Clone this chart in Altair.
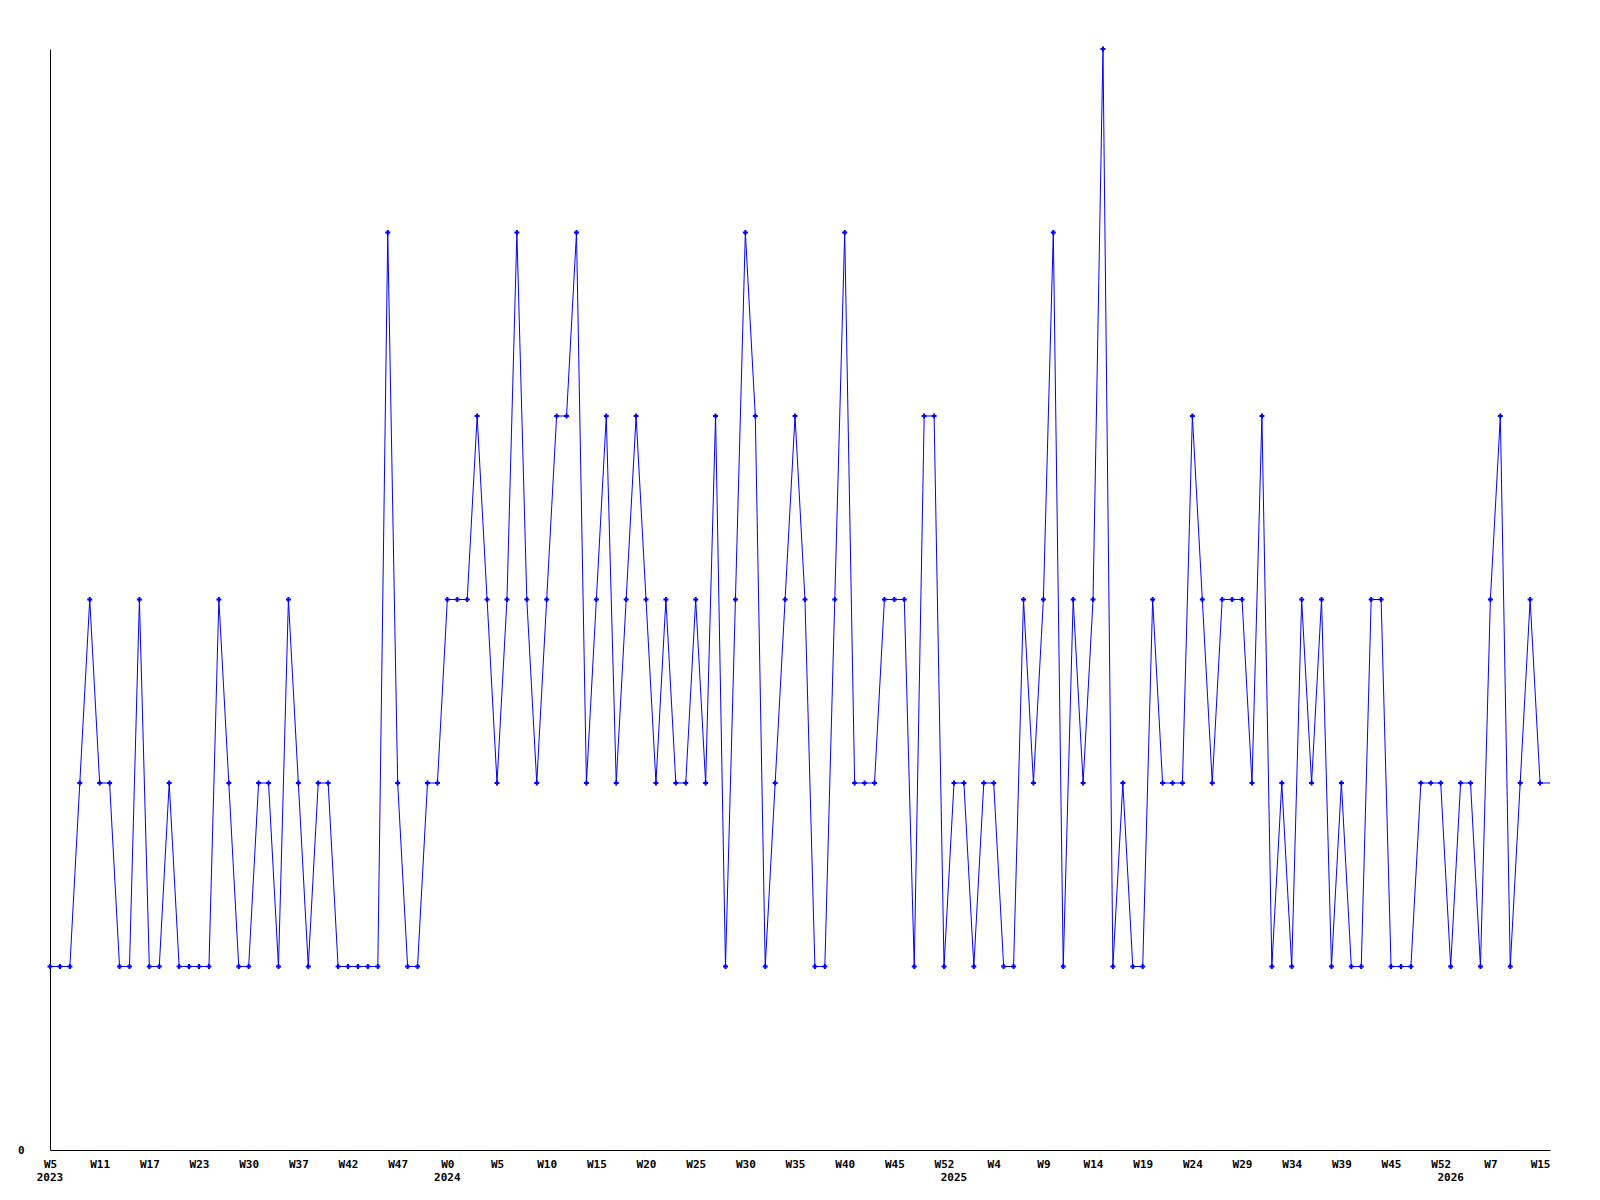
import altair as alt
import pandas as pd

# values, one per period
values = [1, 1, 1, 2, 3, 2, 2, 1, 1, 3,
          1, 1, 2, 1, 1, 1, 1, 3, 2, 1,
          1, 2, 2, 1, 3, 2, 1, 2, 2, 1,
          1, 1, 1, 1, 5, 2, 1, 1, 2, 2,
          3, 3, 3, 4, 3, 2, 3, 5, 3, 2,
          3, 4, 4, 5, 2, 3, 4, 2, 3, 4,
          3, 2, 3, 2, 2, 3, 2, 4, 1, 3,
          5, 4, 1, 2, 3, 4, 3, 1, 1, 3,
          5, 2, 2, 2, 3, 3, 3, 1, 4, 4,
          1, 2, 2, 1, 2, 2, 1, 1, 3, 2,
          3, 5, 1, 3, 2, 3, 6, 1, 2, 1,
          1, 3, 2, 2, 2, 4, 3, 2, 3, 3,
          3, 2, 4, 1, 2, 1, 3, 2, 3, 1,
          2, 1, 1, 3, 3, 1, 1, 1, 2, 2,
          2, 1, 2, 2, 1, 3, 4, 1, 2, 3,
          2, 2]

# week tick labels, one every 5 periods
week_labels = ["W5", "W11", "W17", "W23", "W30", "W37", "W42", "W47", "W0",
               "W5", "W10", "W15", "W20", "W25", "W30", "W35", "W40", "W45",
               "W52", "W4", "W9", "W14", "W19", "W24", "W29", "W34", "W39",
               "W45", "W52", "W7", "W15"]
week_step = 5

# year labels and the period index where each year begins
years = ["2023", "2024", "2025", "2026"]
year_start = [0, 40, 91, 141]

n = len(values)
df = pd.DataFrame({"idx": list(range(n)), "value": values})
df["marker"] = df["idx"] < n - 1
ydf = pd.DataFrame({"idx": year_start, "year": years})

W, H = 1500, 1101
FONT = "DejaVu Sans Mono"
BLUE = "#0000ff"

tick_vals = [i * week_step for i in range(len(week_labels))]
label_expr = "[" + ",".join("'%s'" % w for w in week_labels) + "][round(datum.value / %d)]" % week_step

xscale = alt.Scale(domain=[0, n - 1], nice=False, zero=False)
yscale = alt.Scale(domain=[0, 6], nice=False, zero=True)

xaxis = alt.Axis(values=tick_vals, labelExpr=label_expr, title=None, grid=False,
                 ticks=False, domainColor="black", domainWidth=1,
                 labelFont=FONT, labelFontSize=11, labelFontWeight="bold",
                 labelColor="black", labelPadding=8, labelOverlap=False,
                 labelBound=False, labelFlush=False)
yaxis = alt.Axis(values=[0], format="d", title=None, grid=False, ticks=False,
                 domainColor="black", domainWidth=1,
                 labelFont=FONT, labelFontSize=11, labelFontWeight="bold",
                 labelColor="black", labelPadding=26, labelBaseline="middle")

base = alt.Chart(df)
line = base.mark_line(color=BLUE, strokeWidth=1).encode(
    x=alt.X("idx:Q", scale=xscale, axis=xaxis),
    y=alt.Y("value:Q", scale=yscale, axis=yaxis),
)
pts = base.transform_filter("datum.marker").mark_point(
    shape="cross", filled=True, size=25, color=BLUE, opacity=1
).encode(
    x=alt.X("idx:Q", scale=xscale),
    y=alt.Y("value:Q", scale=yscale),
)
yr = alt.Chart(ydf).mark_text(
    font=FONT, fontSize=11, fontWeight="bold", color="black",
    baseline="top", align="center"
).encode(
    x=alt.X("idx:Q", scale=xscale),
    y=alt.value(H + 22),
    text="year:N",
)

chart = alt.layer(line, pts, yr).properties(
    width=W, height=H,
    autosize=alt.AutoSizeParams(type="none"),
    padding={"left": 42, "top": 41, "right": 40, "bottom": 60},
    background="white",
).configure_view(strokeWidth=0)

chart.save("out.html", embed_options={"renderer": "svg", "actions": False})
